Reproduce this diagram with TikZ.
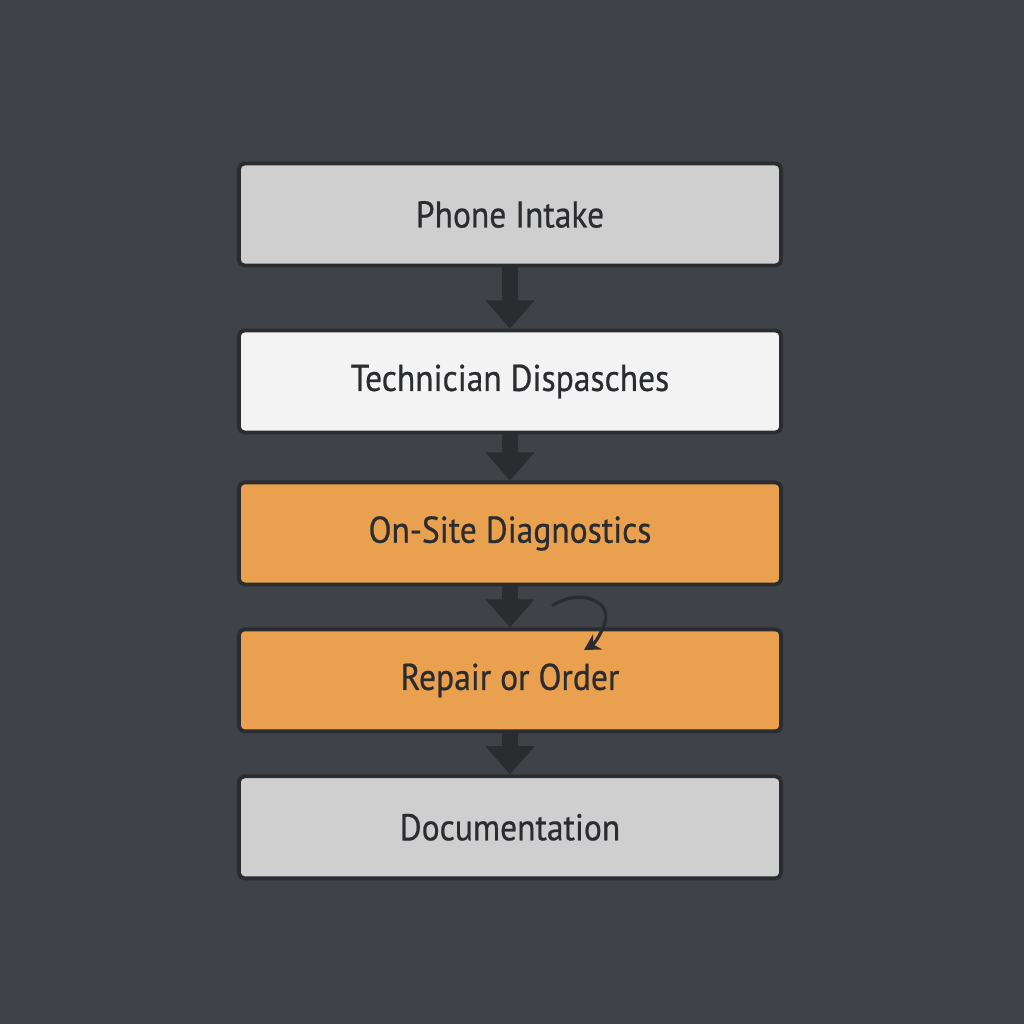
\documentclass[tikz,border=0pt]{standalone}
\usepackage{fontspec}
\setmainfont[FakeStretch=0.9, FakeBold=0.6]{PT Sans}
\usetikzlibrary{arrows.meta,positioning}

\definecolor{bgcol}{HTML}{3F4247}
\definecolor{inkcol}{HTML}{2A2C30}
\definecolor{greycol}{HTML}{CFCFCF}
\definecolor{whitecol}{HTML}{F3F3F3}
\definecolor{orangecol}{HTML}{E9A04F}

\begin{document}
\begin{tikzpicture}[
      x=0.01cm, y=-0.01cm,
      stage/.style={draw=inkcol, line width=1.1pt, rounded corners=1.6pt,
        minimum width=5.42cm, minimum height=1.02cm, text=inkcol,
        font=\fontsize{10.6}{12}\selectfont},
      flow/.style={draw=inkcol, line width=4.5pt,
        -{Triangle[width=13.5pt, length=8pt]}},
      loopline/.style={draw=inkcol, line width=0.9pt, -{Stealth[length=4.5pt, width=5pt]}}
    ]
    \fill[bgcol] (0,0) rectangle (1024,1024);
    \node[stage, fill=greycol] (intake) at (510,214.5) {Phone Intake};
    \node[stage, fill=whitecol, below=0.61cm of intake] (dispatch) {Technician Dispasches};
    \node[stage, fill=orangecol, below=0.46cm of dispatch] (diag) {On-Site Diagnostics};
    \node[stage, fill=orangecol, below=0.41cm of diag] (repair) {Repair or Order};
    \node[stage, fill=greycol, below=0.41cm of repair] (docs) {Documentation};

    \draw[flow] (intake) -- (dispatch);
    \draw[flow] (dispatch) -- (diag);
    \draw[flow] (diag) -- (repair);
    \draw[flow] (repair) -- (docs);

    \coordinate (loopstart) at (552,606);
    \coordinate (loopend) at (584,650);
    \draw[loopline] (loopstart) .. controls (578,588) and (612,600) .. (605,622)
      .. controls (601,635) and (594,644) .. (loopend);
\end{tikzpicture}
\end{document}
